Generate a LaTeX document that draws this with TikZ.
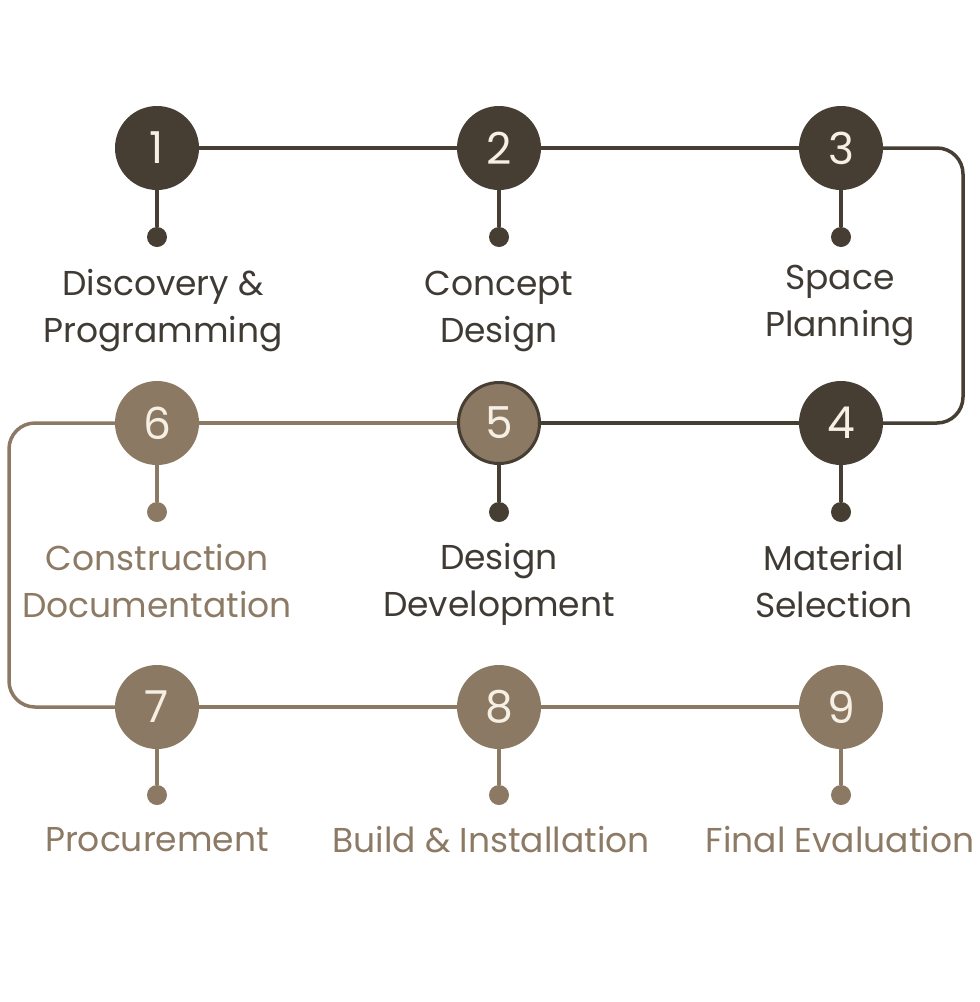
\documentclass[tikz,border=0pt]{standalone}
\usepackage{fontspec}
\setmainfont{Poppins}
\definecolor{darkb}{HTML}{463D33}
\definecolor{lightb}{HTML}{8C7963}
\definecolor{darktxt}{HTML}{3F3A33}
\definecolor{lighttxt}{HTML}{8C7A65}
\definecolor{cream}{HTML}{F6EFE3}
\begin{document}
\begin{tikzpicture}[x=1pt,y=-1pt,
  stepcircle/.style={circle,minimum size=84pt,inner sep=0pt,text=cream,font=\fontsize{44}{44}\selectfont},
  darkcircle/.style={stepcircle,fill=darkb},
  lightcircle/.style={stepcircle,fill=lightb},
  dotnode/.style={circle,minimum size=20pt,inner sep=0pt},
  conn/.style={line width=3.5pt},
  lbl/.style={align=center,font=\fontsize{34.5}{47}\selectfont,inner sep=0pt}
]
\useasboundingbox (0,0) rectangle (980,1002);
% circles
\node[darkcircle] (c1) at (157,148) {1};
\node[darkcircle] (c2) at (499,148) {2};
\node[darkcircle] (c3) at (841,148) {3};
\node[darkcircle] (c4) at (841,423) {4};
\node[lightcircle,draw=darkb,line width=3pt,minimum size=81pt] (c5) at (499,423) {5};
\node[lightcircle] (c6) at (157,423) {6};
\node[lightcircle] (c7) at (157,707) {7};
\node[lightcircle] (c8) at (499,707) {8};
\node[lightcircle] (c9) at (841,707) {9};
% dots
\node[dotnode,fill=darkb] (d1) at (157,237) {};
\node[dotnode,fill=darkb] (d2) at (499,237) {};
\node[dotnode,fill=darkb] (d3) at (841,237) {};
\node[dotnode,fill=darkb] (d4) at (841,512) {};
\node[dotnode,fill=darkb] (d5) at (499,512) {};
\node[dotnode,fill=lightb] (d6) at (157,512) {};
\node[dotnode,fill=lightb] (d7) at (157,795) {};
\node[dotnode,fill=lightb] (d8) at (499,795) {};
\node[dotnode,fill=lightb] (d9) at (841,795) {};
\coordinate (rx) at (963,0);
\coordinate (lx) at (9,0);
% connectors
\draw[conn,darkb] (c1) -- (c2);
\draw[conn,darkb] (c2) -- (c3);
\draw[conn,darkb,rounded corners=26pt] (c3.east) -- (c3.east -| rx) -- (c4.east -| rx) -- (c4.east);
\draw[conn,darkb] (c4) -- (c5);
\draw[conn,lightb] (c5) -- (c6);
\draw[conn,lightb,rounded corners=26pt] (c6.west) -- (c6.west -| lx) -- (c7.west -| lx) -- (c7.west);
\draw[conn,lightb] (c7) -- (c8);
\draw[conn,lightb] (c8) -- (c9);
\foreach \i in {1,2,3,4,5}{\draw[line width=4pt,darkb] (c\i) -- (d\i);}
\foreach \i in {6,7,8,9}{\draw[line width=4pt,lightb] (c\i) -- (d\i);}
% labels
\node[lbl,text=darktxt] (l1) at (163,311) {Discovery \&\\Programming};
\node[lbl,text=darktxt] (l2) at (499,311) {Concept\\Design};
\node[lbl,text=darktxt] (l3) at (840,305) {Space\\Planning};
\node[lbl,text=darktxt] (l4) at (834,581) {Material\\Selection};
\node[lbl,text=darktxt] (l5) at (499,584) {Design\\Development};
\node[lbl,text=lighttxt] (l6) at (157,581) {Construction\\Documentation};
\node[lbl,text=lighttxt] (l7) at (157,840) {Procurement};
\node[lbl,text=lighttxt] (l8) at (491,840) {Build \& Installation};
\node[lbl,text=lighttxt] (l9) at (840,840) {Final Evaluation};
\end{tikzpicture}
\end{document}
